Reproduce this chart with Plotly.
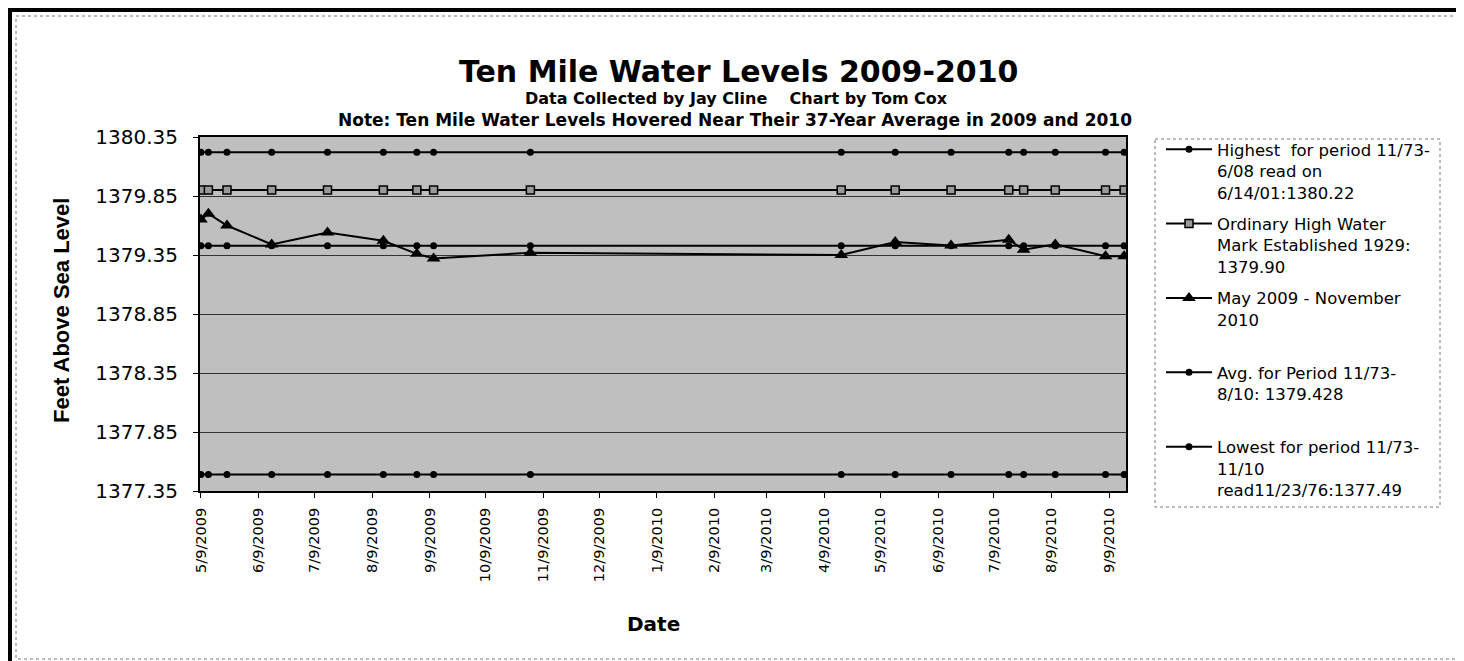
import plotly.graph_objects as go
from datetime import date

# ---------------- data ----------------
dates = ["2009-05-09", "2009-05-13", "2009-05-23", "2009-06-16", "2009-07-16",
         "2009-08-15", "2009-09-02", "2009-09-11", "2009-11-02", "2010-04-18",
         "2010-05-17", "2010-06-16", "2010-07-17", "2010-07-25", "2010-08-11",
         "2010-09-07", "2010-09-17"]
levels = [1379.65, 1379.70, 1379.60, 1379.44, 1379.54, 1379.47, 1379.36, 1379.32,
          1379.37, 1379.35, 1379.46, 1379.43, 1379.48, 1379.395, 1379.44,
          1379.34, 1379.34]
highest_level = 1380.22
ohw_level = 1379.90
avg_level = 1379.428
lowest_level = 1377.49

series_names = [
    "Highest&nbsp; for period 11/73-<br>6/08 read on<br>6/14/01:1380.22",
    "Ordinary High Water<br>Mark Established 1929:<br>1379.90",
    "May 2009 - November<br>2010<br> ",
    "Avg. for Period 11/73-<br>8/10: 1379.428<br> ",
    "Lowest for period 11/73-<br>11/10<br>read11/23/76:1377.49",
]

y_ticks = [1377.35, 1377.85, 1378.35, 1378.85, 1379.35, 1379.85, 1380.35]
x_ticks = ["2009-05-09", "2009-06-09", "2009-07-09", "2009-08-09", "2009-09-09",
           "2009-10-09", "2009-11-09", "2009-12-09", "2010-01-09", "2010-02-09",
           "2010-03-09", "2010-04-09", "2010-05-09", "2010-06-09", "2010-07-09",
           "2010-08-09", "2010-09-09"]
x_tick_text = [f"{date.fromisoformat(d).month}/{date.fromisoformat(d).day}/{date.fromisoformat(d).year}"
               for d in x_ticks]

title_text = "Ten Mile Water Levels 2009-2010"
subtitle_text = "Data Collected by Jay Cline &nbsp;&nbsp; Chart by Tom Cox"
note_text = "Note: Ten Mile Water Levels Hovered Near Their 37-Year Average in 2009 and 2010"

# ---------------- layout geometry (pixels) ----------------
W, H = 1464, 661
PL, PR, PT, PB = 192, 1118, 129, 483


def px_x(p):
    return (p - PL) / (PR - PL)


def px_y(p):
    return (PB - p) / (PB - PT)


FONT = "DejaVu Sans"

fig = go.Figure()

line_style = dict(color="black", width=2)

fig.add_trace(go.Scatter(x=dates, y=[highest_level] * len(dates), mode="lines+markers",
                         name=series_names[0], line=line_style, legendgroup="g1",
                         marker=dict(symbol="circle", size=7, color="black")))
fig.add_trace(go.Scatter(x=dates, y=[ohw_level] * len(dates), mode="lines+markers",
                         name=series_names[1], line=line_style, legendgroup="g2",
                         marker=dict(symbol="square", size=8, color="#9a9a9a",
                                     line=dict(color="black", width=1.5))))
fig.add_trace(go.Scatter(x=dates, y=levels, mode="lines+markers",
                         name=series_names[2], line=line_style, legendgroup="g3",
                         marker=dict(symbol="triangle-up", size=12, color="black")))
fig.add_trace(go.Scatter(x=dates, y=[avg_level] * len(dates), mode="lines+markers",
                         name=series_names[3], line=line_style, legendgroup="g4",
                         marker=dict(symbol="circle", size=7, color="black")))
fig.add_trace(go.Scatter(x=dates, y=[lowest_level] * len(dates), mode="lines+markers",
                         name=series_names[4], line=line_style, legendgroup="g5",
                         marker=dict(symbol="circle", size=7, color="black")))

annotations = [
    dict(text=f"<b>{title_text}</b>", x=px_x(730), y=px_y(63), xref="paper", yref="paper",
         showarrow=False, font=dict(family=FONT, size=30, color="black"),
         xanchor="center", yanchor="middle"),
    dict(text=f"<b>{subtitle_text}</b>", x=px_x(728), y=px_y(90), xref="paper", yref="paper",
         showarrow=False, font=dict(family=FONT, size=16, color="black"),
         xanchor="center", yanchor="middle"),
    dict(text=f"<b>{note_text}</b>", x=px_x(727), y=px_y(112), xref="paper", yref="paper",
         showarrow=False, font=dict(family=FONT, size=17, color="black"),
         xanchor="center", yanchor="middle"),
    dict(text="<b>Feet Above Sea Level</b>", x=px_x(53), y=px_y(303), xref="paper", yref="paper",
         showarrow=False, textangle=-90, font=dict(family="Liberation Sans", size=22, color="black"),
         xanchor="center", yanchor="middle"),
    dict(text="<b>Date</b>", x=px_x(645), y=px_y(616), xref="paper", yref="paper",
         showarrow=False, font=dict(family=FONT, size=20, color="black"),
         xanchor="center", yanchor="middle"),
]

shapes = [
    # outer thick frame
    dict(type="rect", xref="paper", yref="paper",
         x0=px_x(2), x1=px_x(1457), y0=px_y(2), y1=px_y(657),
         line=dict(color="black", width=4), layer="above"),
    # inner dotted chart-area border
    dict(type="rect", xref="paper", yref="paper",
         x0=px_x(8), x1=px_x(1450), y0=px_y(8), y1=px_y(651),
         line=dict(color="#777777", width=1, dash="dot"), layer="above"),
    # legend dotted box
    dict(type="rect", xref="paper", yref="paper",
         x0=px_x(1147), x1=px_x(1432), y0=px_y(131), y1=px_y(499),
         line=dict(color="#777777", width=1, dash="dot"), layer="above"),
]

fig.update_layout(
    width=W, height=H,
    margin=dict(l=PL, r=W - PR, t=PT, b=H - PB, autoexpand=False),
    paper_bgcolor="white",
    plot_bgcolor="#bfbfbf",
    font=dict(family=FONT, color="black"),
    showlegend=True,
    legend=dict(x=px_x(1153), y=px_y(124), xanchor="left", yanchor="top",
                font=dict(family=FONT, size=16.5, color="black"),
                bgcolor="rgba(0,0,0,0)", borderwidth=0, valign="top",
                itemwidth=46, tracegroupgap=7, itemclick=False,
                maxheight=560),
    annotations=annotations,
    shapes=shapes,
    xaxis=dict(
        type="date",
        range=["2009-05-08 12:00", "2010-09-18 00:00"],
        tickmode="array", tickvals=x_ticks, ticktext=x_tick_text,
        tickangle=-90, tickfont=dict(family=FONT, size=14.5, color="black"),
        ticks="outside", ticklen=5, tickcolor="black", ticklabelstandoff=4,
        showgrid=False, showline=True, linecolor="black", linewidth=2, mirror=True,
        zeroline=False,
    ),
    yaxis=dict(
        range=[1377.35, 1380.35],
        tickmode="array", tickvals=y_ticks, ticktext=[f"{v:.2f}" for v in y_ticks],
        tickfont=dict(family=FONT, size=20, color="black"),
        ticks="outside", ticklen=5, tickcolor="black", ticklabelstandoff=11,
        showgrid=True, gridcolor="#333333", gridwidth=1,
        showline=True, linecolor="black", linewidth=2, mirror=True,
        zeroline=False,
    ),
)

fig.write_html("out.html")
